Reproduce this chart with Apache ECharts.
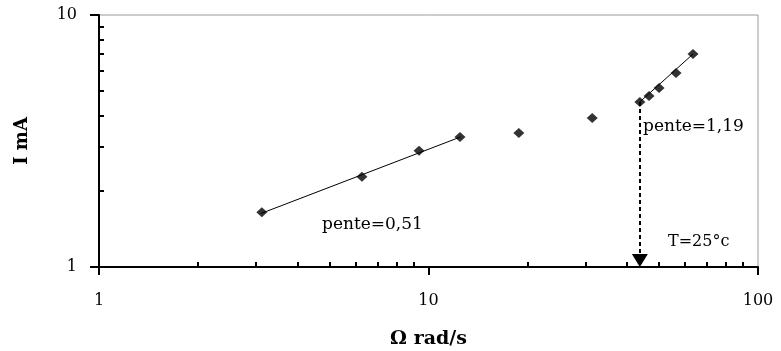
<!DOCTYPE html>
<html>
<head>
<meta charset="utf-8">
<script src="https://cdn.jsdelivr.net/npm/echarts@6/dist/echarts.min.js"></script>
<style>
  html, body { margin: 0; padding: 0; background: #fff; }
  #chart { width: 781px; height: 351px; }
</style>
</head>
<body>
<div id="chart"></div>
<script>
// mesures : vitesse de rotation (rad/s) et courant (mA)
const omega = [3.12, 6.28, 9.36, 12.46, 18.8, 31.4, 43.8, 46.7, 50.1, 56.4, 63.5];
const courant = [1.65, 2.28, 2.89, 3.28, 3.40, 3.90, 4.52, 4.77, 5.13, 5.89, 7.0];
// droites de pente (extrémités)
const droite1X = [3.1, 12.5];
const droite1Y = [1.63, 3.28];
const droite2X = [43.8, 63.5];
const droite2Y = [4.52, 7.0];
// flèche verticale pointillée
const flecheX = 43.8;
const flecheY = [4.52, 1.06];

const serif = "'DejaVu Serif', 'Liberation Serif', serif";
const mychart = echarts.init(document.getElementById("chart"));

function paires(xs, ys) {
  return xs.map((x, i) => [x, ys[i]]);
}

mychart.setOption({
  animation: false,
  grid: {
    left: 99,
    right: 23,
    top: 15,
    bottom: 84,
    outerBoundsMode: "none",
    show: true,
    borderColor: "#9a9a9a",
    borderWidth: 1,
  },
  xAxis: [
    {
      type: "log",
      logBase: 10,
      min: 1,
      max: 100,
      position: "bottom",
      name: "\u03A9 rad/s",
      nameLocation: "middle",
      nameGap: 63,
      nameTextStyle: { fontFamily: serif, fontSize: 19, fontWeight: "bold", color: "#000" },
      axisLine: { lineStyle: { color: "#000", width: 2 } },
      axisTick: { show: true, inside: false, length: 8, lineStyle: { color: "#000", width: 2 } },
      axisLabel: { margin: 26, fontFamily: serif, fontSize: 16, color: "#000" },
      splitLine: { show: false },
    },
    {
      // axe superposé pour les petites graduations vers l'intérieur
      type: "log",
      logBase: 10,
      min: 1,
      max: 100,
      position: "bottom",
      axisLine: { show: false },
      axisTick: { show: false, inside: true },
      minorTick: { show: true, splitNumber: 9, length: 5, lineStyle: { color: "#000", width: 2 } },
      axisLabel: { show: false },
      splitLine: { show: false },
    },
  ],
  yAxis: [
    {
      type: "log",
      logBase: 10,
      min: 1,
      max: 10,
      position: "left",
      name: "I mA",
      nameLocation: "middle",
      nameRotate: 90,
      nameGap: 68,
      nameTextStyle: { fontFamily: serif, fontSize: 18, fontWeight: "bold", color: "#000" },
      axisLine: { lineStyle: { color: "#000", width: 2 } },
      axisTick: { show: true, inside: false, length: 9, lineStyle: { color: "#000", width: 2 } },
      axisLabel: { margin: 22, fontFamily: serif, fontSize: 16, color: "#000" },
      splitLine: { show: false },
    },
    {
      type: "log",
      logBase: 10,
      min: 1,
      max: 10,
      position: "left",
      axisLine: { show: false },
      axisTick: { show: false, inside: true },
      minorTick: { show: true, splitNumber: 9, length: 5, lineStyle: { color: "#000", width: 2 } },
      axisLabel: { show: false },
      splitLine: { show: false },
    },
  ],
  series: [
    {
      name: "pente 0,51",
      type: "line",
      data: paires(droite1X, droite1Y),
      showSymbol: false,
      lineStyle: { color: "#000", width: 1 },
      z: 2,
    },
    {
      name: "pente 1,19",
      type: "line",
      data: paires(droite2X, droite2Y),
      showSymbol: false,
      lineStyle: { color: "#000", width: 1 },
      z: 2,
    },
    {
      name: "fleche",
      type: "line",
      data: [],
      markLine: {
        silent: true,
        symbol: ["none", "triangle"],
        symbolSize: [16, 13],
        label: { show: false },
        lineStyle: { color: "#000", type: [4, 3], width: 2 },
        itemStyle: { color: "#000" },
        data: [[{ coord: [flecheX, flecheY[0]] }, { coord: [flecheX, flecheY[1]] }]],
      },
    },
    {
      name: "mesures",
      type: "scatter",
      data: paires(omega, courant),
      symbol: "diamond",
      symbolSize: [11, 10],
      itemStyle: { color: "#000" },
      z: 3,
    },
  ],
  graphic: [
    {
      type: "text",
      left: 322,
      top: 216,
      style: { text: "pente=0,51", font: "17px " + serif, fill: "#000" },
    },
    {
      type: "text",
      left: 643,
      top: 118,
      style: { text: "pente=1,19", font: "17px " + serif, fill: "#000" },
    },
    {
      type: "text",
      left: 668,
      top: 234,
      style: { text: "T=25\u00B0c", font: "16px " + serif, fill: "#000" },
    },
  ],
});
</script>
</body>
</html>
